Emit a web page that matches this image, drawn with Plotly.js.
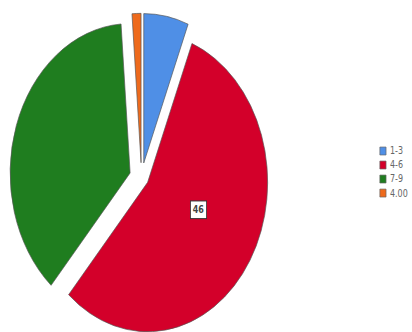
<!DOCTYPE html>
<html>
<head>
<meta charset="utf-8">
<script src="https://cdn.plot.ly/plotly-3.0.1.min.js"></script>
<style>
html,body{margin:0;padding:0;background:#fff;overflow:hidden;}
#wrap{width:412px;height:332px;overflow:hidden;}
#chart{width:412px;height:285px;transform:scaleY(1.245);transform-origin:0 0;}
</style>
</head>
<body>
<div id="wrap"><div id="chart"></div></div>
<script>
const categories = ['1-3', '4-6', '7-9', '4.00'];
const counts = [5, 46, 31, 1];
const colors = ['#4f8fe6', '#d3002a', '#1f7d1f', '#ee6a1c'];
const labelledIndex = 1;

const trace = {
  type: 'pie',
  labels: categories,
  values: counts,
  sort: false,
  direction: 'clockwise',
  rotation: 0,
  pull: [0.1, 0.06, 0.1, 0.1],
  textinfo: 'none',
  marker: {colors: colors, line: {color: '#555', width: 0.6}},
  domain: {x: [0.0231, 0.6638], y: [0.0361, 0.9625]},
  hoverinfo: 'none'
};

const H = 285;
const shapes = [];
const annotations = [];
const legTop = 0.5744, legStep = 0.0395, half = 0.0112;
categories.forEach((c, i) => {
  const yc = legTop - i * legStep;
  shapes.push({
    type: 'rect', xref: 'paper', yref: 'paper',
    x0: 0.922, x1: 0.937, y0: yc - half, y1: yc + half,
    fillcolor: colors[i], line: {color: '#666', width: 0.6}
  });
  annotations.push({
    xref: 'paper', yref: 'paper', x: 0.941, y: yc,
    xanchor: 'left', yanchor: 'middle', showarrow: false,
    text: c, font: {family: 'DejaVu Sans', size: 8, color: '#666'}
  });
});
annotations.push({
  xref: 'paper', yref: 'paper', x: 0.483, y: 0.408,
  xanchor: 'center', yanchor: 'middle', showarrow: false,
  text: '<b>' + counts[labelledIndex] + '</b>',
  font: {family: 'DejaVu Sans', size: 8, color: '#444'},
  bgcolor: '#fff', bordercolor: '#333', borderwidth: 0.8, borderpad: 2
});

const layout = {
  width: 412, height: H,
  margin: {l: 0, r: 0, t: 0, b: 0},
  paper_bgcolor: '#fff',
  showlegend: false,
  shapes: shapes,
  annotations: annotations
};

Plotly.newPlot('chart', [trace], layout, {displayModeBar: false, staticPlot: true});
</script>
</body>
</html>
